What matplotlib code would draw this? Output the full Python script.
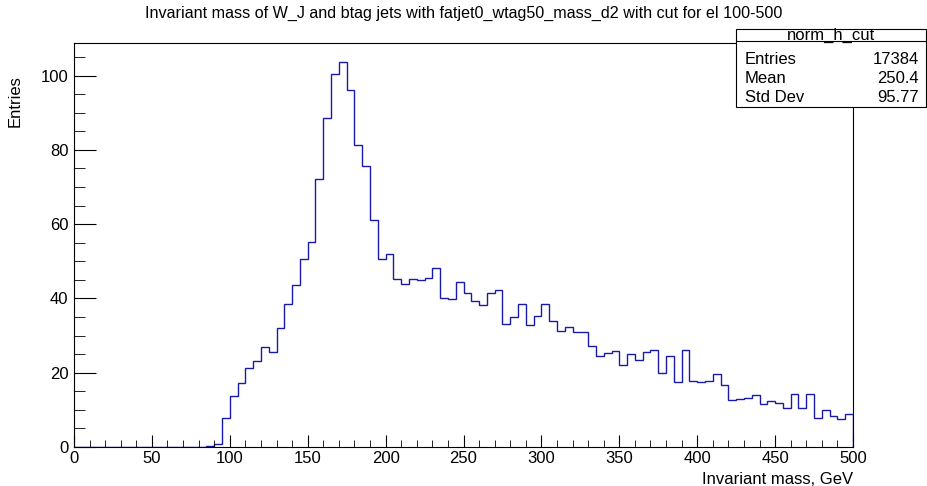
import numpy as np
import matplotlib.pyplot as plt
from matplotlib.ticker import MultipleLocator

plt.rcParams['font.family'] = ['Liberation Sans', 'DejaVu Sans']

# histogram: 100 bins of 5 GeV from 0 to 500
bin_edges = np.arange(0, 505, 5)
counts = [0.0] * 17 + [
    0.3, 0.9, 7.7, 13.7, 17.1, 21.3, 23.2, 27.0, 25.5, 32.0,      # 85-135
    38.4, 43.6, 50.5, 55.3, 72.1, 88.6, 100.4, 103.6, 96.1, 81.4,  # 135-185
    75.6, 61.0, 50.7, 52.0, 45.3, 43.8, 45.3, 45.0, 45.4, 48.1,    # 185-235
    40.2, 39.9, 44.5, 41.5, 39.2, 38.2, 41.5, 42.2, 33.2, 35.0,    # 235-285
    38.6, 32.8, 35.3, 38.4, 33.8, 31.2, 32.2, 30.9, 30.9, 27.2,    # 285-335
    24.4, 25.4, 25.8, 22.2, 25.0, 23.4, 25.5, 26.2, 19.8, 24.4,    # 335-385
    17.5, 26.0, 17.8, 17.5, 17.8, 19.6, 16.7, 12.6, 12.9, 13.3,    # 385-435
    14.0, 11.5, 12.4, 11.9, 10.5, 14.4, 10.5, 14.4, 7.9, 10.0,     # 435-485
    8.4, 7.6, 8.9,                                                 # 485-500
]

title = "Invariant mass of W_J and btag jets with fatjet0_wtag50_mass_d2 with cut for el 100-500"
stats_name = "norm_h_cut"
stats_labels = ["Entries", "Mean", "Std Dev"]
stats_values = ["17384", "250.4", "95.77"]

W, H = 927, 486
fig = plt.figure(figsize=(W / 100, H / 100), dpi=100)
ax = fig.add_axes([74 / W, 1 - 447 / H, (853 - 74) / W, (447 - 43) / H])

ax.stairs(counts, bin_edges, color='#1a1aa8', linewidth=1.0)

ax.set_xlim(0, 500)
ax.set_ylim(0, 1.05 * max(counts))
ax.xaxis.set_major_locator(MultipleLocator(50))
ax.xaxis.set_minor_locator(MultipleLocator(10))
ax.yaxis.set_major_locator(MultipleLocator(20))
ax.yaxis.set_minor_locator(MultipleLocator(5))
ax.tick_params(axis='both', which='both', direction='in', top=False, right=False,
               labelsize=12, color='black')
ax.tick_params(axis='x', which='major', length=9, pad=3)
ax.tick_params(axis='x', which='minor', length=4.8)
ax.tick_params(axis='y', which='major', length=16, pad=4)
ax.tick_params(axis='y', which='minor', length=8)
for s in ax.spines.values():
    s.set_linewidth(0.8)

fig.text(0.5, 1 - 13 / H, title, ha='center', va='center', fontsize=11.6)
fig.text(15 / W, 1 - 75 / H, "Entries", rotation=90, ha='center', va='top', fontsize=12)
fig.text(853 / W, 1 - 479 / H, "Invariant mass, GeV", ha='right', va='center', fontsize=12)

# stats box
bx0, bx1, by0, by1, bsep = 736, 926, 29, 107, 41
box = plt.Rectangle((bx0 / W, 1 - by1 / H), (bx1 - bx0) / W, (by1 - by0) / H,
                    transform=fig.transFigure, facecolor='white', edgecolor='black',
                    linewidth=0.8, zorder=5)
fig.patches.append(box)
fig.add_artist(plt.Line2D([bx0 / W, bx1 / W], [1 - bsep / H, 1 - bsep / H],
                          transform=fig.transFigure, color='black', linewidth=0.8, zorder=6))
fig.text((bx0 + bx1) / 2 / W, 1 - 35 / H, stats_name, ha='center', va='center',
         fontsize=12, zorder=7)
row_y = [59, 78, 97]
for lab, val, yy in zip(stats_labels, stats_values, row_y):
    fig.text(745 / W, 1 - yy / H, lab, ha='left', va='center', fontsize=12, zorder=7)
    fig.text(919 / W, 1 - yy / H, val, ha='right', va='center', fontsize=12, zorder=7)

fig.savefig("out.png", dpi=100)
